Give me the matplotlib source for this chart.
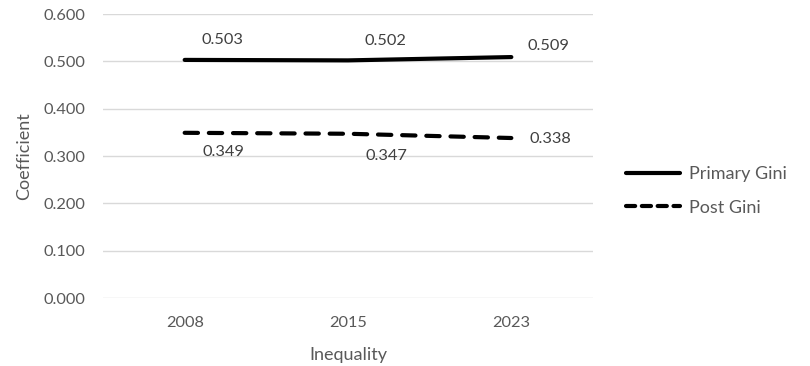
import matplotlib
matplotlib.use("Agg")
import matplotlib.pyplot as plt
from matplotlib.lines import Line2D

years = ["2008", "2015", "2023"]
primary_gini = [0.503, 0.502, 0.509]
post_gini = [0.349, 0.347, 0.338]
y_ticks = [0.0, 0.1, 0.2, 0.3, 0.4, 0.5, 0.6]

plt.rcParams['font.family'] = ['Lato', 'DejaVu Sans']
TXT = '#595959'
W, H = 810, 366
fig = plt.figure(figsize=(W/100, H/100), dpi=100)
ax = fig.add_axes([103/W, (H-298)/H, (593-103)/W, (298-14)/H])

x = list(range(len(years)))
l1, = ax.plot(x, primary_gini, color='black', lw=3.0, solid_capstyle='round')
l2, = ax.plot(x, post_gini, color='black', lw=3.0, dash_capstyle='round',
              linestyle=(0, (3.2, 2.6)))

ax.set_xlim(-0.5, 2.5)
ax.set_ylim(0, 0.6)
ax.set_yticks(y_ticks)
ax.set_yticklabels([f"{v:.3f}" for v in y_ticks])
ax.set_xticks(x)
ax.set_xticklabels(years)
ax.grid(axis='y', color='#d9d9d9', lw=1)
ax.set_axisbelow(True)
for s in ax.spines.values():
    s.set_visible(False)
ax.tick_params(axis='both', length=0, labelsize=11.8, colors=TXT)
ax.tick_params(axis='y', pad=13)
ax.tick_params(axis='x', pad=13)

ax.set_xlabel("Inequality", fontsize=13, color=TXT, labelpad=12)
ax.set_ylabel("Coefficient", fontsize=13, color=TXT, labelpad=8)

for i, v in enumerate(primary_gini):
    dy = 14 if i < 2 else 8
    ax.annotate(f"{v:.3f}", (i, v), xytext=(27, dy), textcoords='offset points',
                ha='center', va='center', fontsize=11.8, color='#404040')
for i, v in enumerate(post_gini):
    dy = -16 if i < 2 else -1
    if i == 0:
        dy = -14
    ax.annotate(f"{v:.3f}", (i, v), xytext=(28, dy), textcoords='offset points',
                ha='center', va='center', fontsize=11.8, color='#404040')

h1 = Line2D([], [], color='black', lw=3.0, solid_capstyle='round')
h2 = Line2D([], [], color='black', lw=3.0, dash_capstyle='round', linestyle=(0, (2.2, 1.6)))
leg = fig.legend([h1, h2], ["Primary Gini", "Post Gini"], loc='center left',
                 bbox_to_anchor=(610/W, 1 - 191/H), frameon=False, fontsize=13,
                 handlelength=3.0, handletextpad=0.45, labelspacing=0.95, labelcolor=TXT)

fig.savefig("out.png", dpi=100)
